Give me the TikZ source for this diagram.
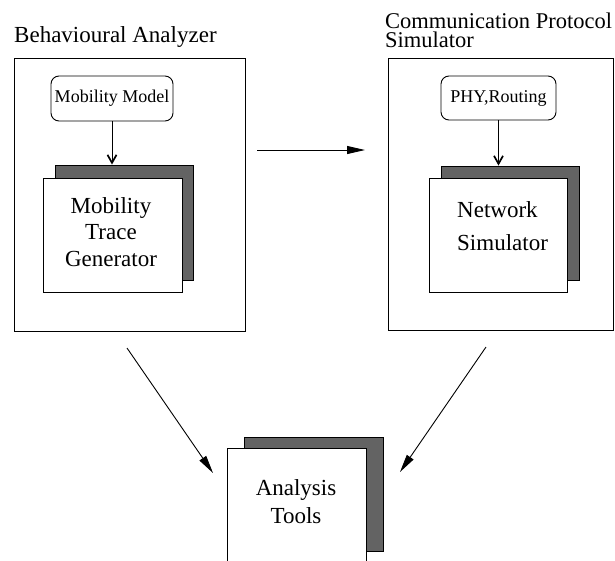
\documentclass[tikz,border=0pt]{standalone}
\usepackage{fontspec}
\setmainfont{Liberation Serif}
\usetikzlibrary{arrows.meta}
\definecolor{schattengrau}{HTML}{636363}

\tikzset{
	rahmen/.style={draw, line width=0.9pt, inner sep=0pt},
	modell/.style={draw, rounded corners=8pt, line width=0.9pt, inner sep=0pt,
		font=\fontsize{18}{20}\selectfont},
	schatten/.style={draw, fill=schattengrau, line width=0.9pt},
	blatt/.style={draw, fill=white, line width=0.9pt},
	titel/.style={inner sep=0pt, font=\fontsize{23}{18.5}\selectfont},
	inhalt/.style={inner sep=0pt},
	kleinpfeil/.style={line width=0.9pt, -{Straight Barb[length=8pt, width=9pt, line width=1.7pt]}},
	grosspfeil/.style={line width=0.9pt, -{Triangle[length=18pt, width=8pt]}}
}

\begin{document}
\begin{tikzpicture}[x=1pt, y=-1pt]
	\useasboundingbox (0,0) rectangle (615,560);

	% Behavioural Analyzer
	\node[titel, anchor=base west] (titelA) at (14,42) {Behavioural Analyzer};
	\node[rahmen, minimum width=231pt, minimum height=273pt] (boxA) at (129.5,194.5) {};
	\node[modell, minimum width=122pt, minimum height=45pt] (mm) at (112,98.5) {Mobility Model};
	\node[schatten, minimum width=138pt, minimum height=115pt] (mtgS) at (124,222.5) {};
	\node[blatt, minimum width=139pt, minimum height=114pt] (mtg) at (112.5,235) {};
	\node[inhalt, anchor=north, align=center, font=\fontsize{23}{26.5}\selectfont]
		(mtgText) at (111,197) {Mobility\\Trace\\Generator};
	\draw[kleinpfeil] (mm) -- (mm |- mtgS.north);

	% Communication Protocol Simulator
	\node[titel, anchor=north west, align=left, font=\fontsize{22.5}{18.5}\selectfont]
		(titelB) at (385,12.8) {Communication Protocol\\Simulator};
	\node[rahmen, minimum width=225pt, minimum height=272pt] (boxB) at (500.5,194) {};
	\node[modell, minimum width=115pt, minimum height=44pt] (phy) at (498.5,98) {PHY,Routing};
	\node[schatten, minimum width=138pt, minimum height=114pt] (nsS) at (510,223) {};
	\node[blatt, minimum width=138pt, minimum height=114pt] (ns) at (498,235) {};
	\node[inhalt, anchor=north west, align=left, font=\fontsize{23}{33.3}\selectfont]
		(nsText) at (457,201) {Network\\Simulator};
	\draw[kleinpfeil] (phy) -- (phy |- nsS.north);

	% Analysis Tools
	\node[schatten, minimum width=139pt, minimum height=114pt] (atS) at (313.5,494) {};
	\node[blatt, minimum width=139pt, minimum height=114pt] (at) at (296.5,505) {};
	\node[inhalt, anchor=north, align=center, font=\fontsize{23}{28}\selectfont]
		(atText) at (296,479.3) {Analysis\\Tools};

	% Pfeile
	\coordinate (hStart) at (257,150);
	\coordinate (hEnd) at (365,150);
	\coordinate (lStart) at (127,348);
	\coordinate (lEnd) at (213,473);
	\coordinate (rStart) at (486,347);
	\coordinate (rEnd) at (400,472);
	\draw[grosspfeil] (hStart) -- (hEnd);
	\draw[grosspfeil] (lStart) -- (lEnd);
	\draw[grosspfeil] (rStart) -- (rEnd);
\end{tikzpicture}
\end{document}
